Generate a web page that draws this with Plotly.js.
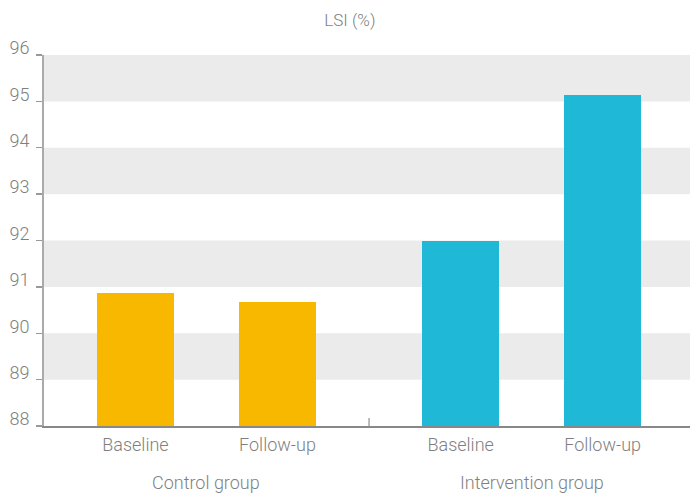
<!DOCTYPE html>
<html><head><meta charset="utf-8">
<script src="https://cdn.plot.ly/plotly-3.0.1.min.js"></script>
<style>html,body{margin:0;padding:0;background:#fff}#c{width:690px;height:495px}</style>
</head><body><div id="c"></div>
<script>
const groups = ["Control group", "Intervention group"];
const timepoints = ["Baseline", "Follow-up"];
const controlValues = [90.87, 90.68];
const interventionValues = [92.0, 95.14];
const yTicks = [88, 89, 90, 91, 92, 93, 94, 95, 96];
const title = "LSI (%)";

const groupStep = 2.29;   // layout spacing between groups (category units)
const colors = ["#F9B800", "#1FB8D6"];
const series = [controlValues, interventionValues];
const grey = "#7f7f7f";
const FONT = "Roboto";

const traces = series.map((vals, g) => ({
  type: "bar",
  x: vals.map((v, i) => g * groupStep + i),
  y: vals.map(v => v - 88),
  base: 88,
  marker: {color: colors[g]},
  width: 0.545,
  hoverinfo: "skip",
  showlegend: false
}));

const tickvals = [], ticktext = [];
groups.forEach((g, gi) => timepoints.forEach((tp, i) => { tickvals.push(gi * groupStep + i); ticktext.push(tp); }));

const shapes = [];
for (let k = 89; k < 96; k += 2) {
  shapes.push({type: "rect", xref: "paper", yref: "y", x0: 0, x1: 1, y0: k, y1: k + 1,
    fillcolor: "#ebebeb", line: {width: 0}, layer: "below"});
}
const divX = (1 + groupStep) / 2;
shapes.push({type: "line", xref: "x", yref: "y", x0: divX, x1: divX, y0: 88, y1: 88 + 8 / 46.4,
  line: {color: "#999", width: 1.3}});

const annotations = groups.map((g, gi) => ({
  text: g, xref: "x", yref: "paper", x: gi * groupStep + 0.5, y: 0, yshift: -56,
  showarrow: false, xanchor: "center", yanchor: "middle",
  font: {family: FONT, size: 18, color: grey, weight: 300}
}));

const layout = {
  width: 690, height: 495,
  margin: {l: 44, r: 0, t: 55, b: 69},
  paper_bgcolor: "#fff", plot_bgcolor: "rgba(0,0,0,0)",
  font: {family: FONT, size: 18, color: grey, weight: 300},
  title: {text: title, x: 0.507, xanchor: "center", y: 0.96, yanchor: "middle",
    font: {family: FONT, size: 17, color: grey, weight: 300}},
  xaxis: {range: [-0.644, 3.905], tickvals: tickvals, ticktext: ticktext, ticks: "",
    showgrid: false, zeroline: false, showline: true, linecolor: "#888", linewidth: 1.5,
    tickfont: {family: FONT, size: 18, color: grey, weight: 300}, ticklabelstandoff: 2, fixedrange: true},
  yaxis: {range: [88, 96], tickvals: yTicks, ticktext: yTicks.map(String), ticks: "outside",
    ticklen: 6, tickcolor: "#999", tickwidth: 1.3, showgrid: false, zeroline: false,
    showline: true, linecolor: "#aaa", linewidth: 2,
    tickfont: {family: FONT, size: 18, color: grey, weight: 300},
    ticklabelshift: -7, ticklabelstandoff: 3, fixedrange: true},
  shapes: shapes,
  annotations: annotations,
  bargap: 0
};
Plotly.newPlot("c", traces, layout, {displayModeBar: false, staticPlot: true});
</script></body></html>
